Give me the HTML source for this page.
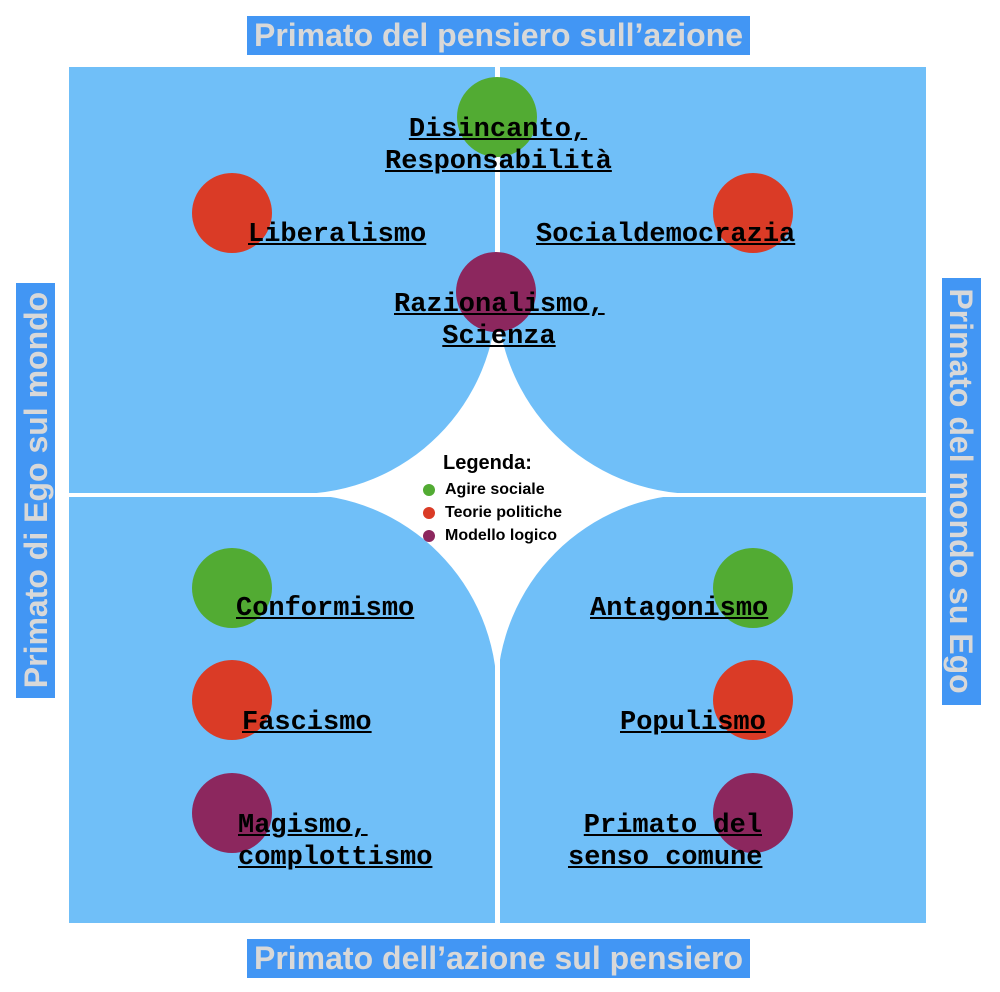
<!DOCTYPE html>
<html><head><meta charset="utf-8"><style>
body{margin:0;width:1000px;height:992px;background:#fff;position:relative;overflow:hidden;font-family:"Liberation Sans",sans-serif}
.q{position:absolute;background:#70bff8;width:426px;height:426px}
.c{position:absolute;width:80px;height:80px;border-radius:50%}
.g{background:#52ab33}.r{background:#da3b26}.p{background:#8c275e}
.t{position:absolute;font-family:"Liberation Mono",monospace;font-weight:bold;font-size:27px;line-height:32px;text-decoration:underline;color:#000;white-space:pre}
.h{position:absolute;background:#4296f4;color:#d8d8d8;font-weight:bold;font-size:32px;text-align:center;line-height:39px;white-space:nowrap}
.leg{position:absolute;font-size:16px;font-weight:bold;white-space:nowrap}
.d{position:absolute;width:12px;height:12px;border-radius:50%}
</style></head><body>
<div class="q" style="left:69px;top:67px"></div>
<div class="q" style="left:500px;top:67px"></div>
<div class="q" style="left:69px;top:497px"></div>
<div class="q" style="left:500px;top:497px"></div>
<svg style="position:absolute;left:0;top:0" width="1000" height="992">
<path d="M297,494 A200,200 0 0 0 497,294 A200,200 0 0 0 697,494 A200,200 0 0 0 497,694 A200,200 0 0 0 297,494 Z" fill="#fff"/>
</svg>

<div class="h" style="left:247px;top:16px;width:503px;height:39px">Primato del pensiero sull’azione</div>
<div class="h" style="left:247px;top:939px;width:503px;height:39px">Primato dell’azione sul pensiero</div>
<svg style="position:absolute;left:0;top:0" width="1000" height="992">
<rect x="16" y="283" width="39" height="415" fill="#4296f4"/>
<rect x="942" y="278" width="39" height="427" fill="#4296f4"/>
<text transform="translate(47,490) rotate(-90)" text-anchor="middle" font-family="Liberation Sans" font-weight="bold" font-size="32" fill="#d8d8d8">Primato di Ego sul mondo</text>
<text transform="translate(950,491) rotate(90)" text-anchor="middle" font-family="Liberation Sans" font-weight="bold" font-size="32" fill="#d8d8d8">Primato del mondo su Ego</text>
</svg>

<div class="c g" style="left:457px;top:77px"></div>
<div class="c r" style="left:192px;top:173px"></div>
<div class="c r" style="left:713px;top:173px"></div>
<div class="c p" style="left:456px;top:252px"></div>
<div class="c g" style="left:192px;top:548px"></div>
<div class="c g" style="left:713px;top:548px"></div>
<div class="c r" style="left:192px;top:660px"></div>
<div class="c r" style="left:713px;top:660px"></div>
<div class="c p" style="left:192px;top:773px"></div>
<div class="c p" style="left:713px;top:773px"></div>

<div class="t" style="left:385px;top:114px;width:226px;text-align:center">Disincanto,
Responsabilità</div>
<div class="t" style="left:248px;top:219px">Liberalismo</div>
<div class="t" style="left:536px;top:219px">Socialdemocrazia</div>
<div class="t" style="left:394px;top:289px;width:210px;text-align:center">Razionalismo,
Scienza</div>
<div class="t" style="left:236px;top:593px">Conformismo</div>
<div class="t" style="left:590px;top:593px">Antagonismo</div>
<div class="t" style="left:242px;top:707px">Fascismo</div>
<div class="t" style="left:620px;top:707px">Populismo</div>
<div class="t" style="left:238px;top:810px">Magismo,
complottismo</div>
<div class="t" style="left:568px;top:810px;width:194px;text-align:right">Primato del
senso comune</div>

<div class="leg" style="left:443px;top:452px;font-size:20px">Legenda:</div>
<div class="d g" style="left:423px;top:484px"></div>
<div class="d r" style="left:423px;top:507px"></div>
<div class="d p" style="left:423px;top:530px"></div>
<div class="leg" style="left:445px;top:481px">Agire sociale</div>
<div class="leg" style="left:445px;top:504px">Teorie politiche</div>
<div class="leg" style="left:445px;top:527px">Modello logico</div>
</body></html>
